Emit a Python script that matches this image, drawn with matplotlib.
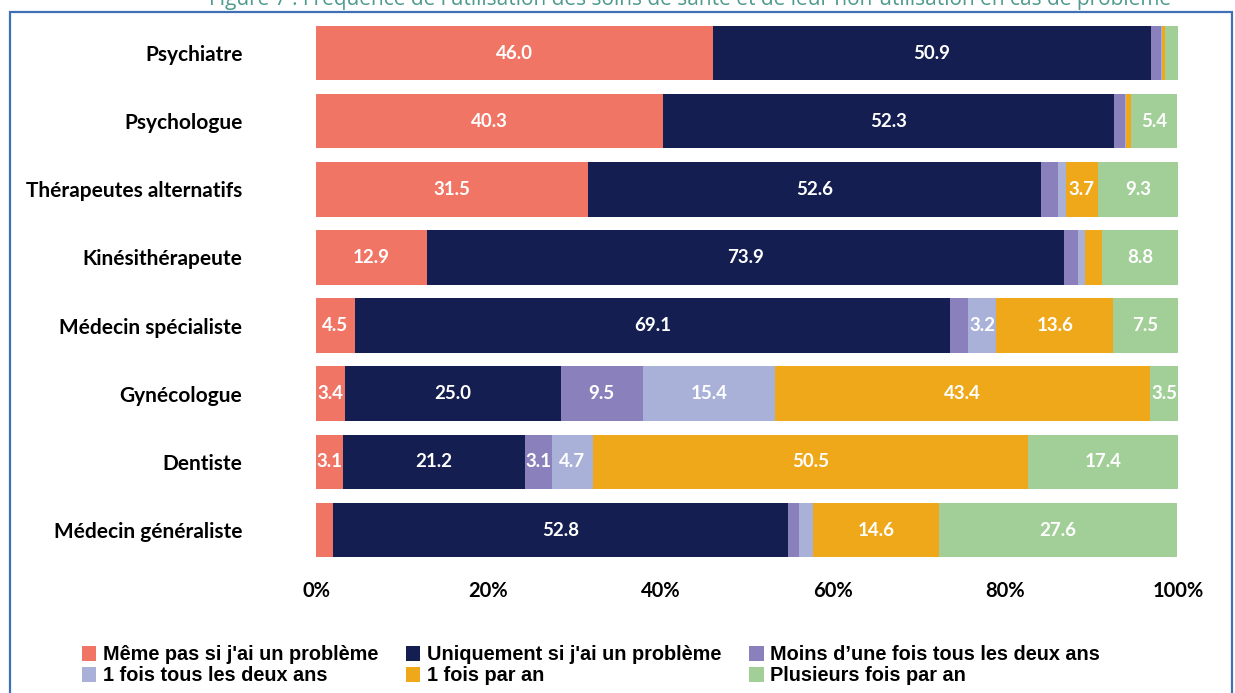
import numpy as np
import matplotlib.pyplot as plt
from matplotlib.patches import Rectangle


# ==================================================
# données
# ==================================================

categories = [
    "Psychiatre",
    "Psychologue",
    "Thérapeutes alternatifs",
    "Kinésithérapeute",
    "Médecin spécialiste",
    "Gynécologue",
    "Dentiste",
    "Médecin généraliste",
]

series_names = [
    "Même pas si j'ai un problème",
    "Uniquement si j'ai un problème",
    "Moins d\u2019une fois tous les deux ans",
    "1 fois tous les deux ans",
    "1 fois par an",
    "Plusieurs fois par an",
]

meme_pas = [46.0, 40.3, 31.5, 12.9, 4.5, 3.4, 3.1, 2.0]
uniquement = [50.9, 52.3, 52.6, 73.9, 69.1, 25.0, 21.2, 52.8]
moins_deux_ans = [1.1, 1.2, 2.0, 1.6, 2.1, 9.5, 3.1, 1.2]
tous_deux_ans = [0.1, 0.2, 0.9, 0.8, 3.2, 15.4, 4.7, 1.7]
par_an = [0.4, 0.5, 3.7, 2.0, 13.6, 43.4, 50.5, 14.6]
plusieurs = [1.5, 5.4, 9.3, 8.8, 7.5, 3.5, 17.4, 27.6]

series = [meme_pas, uniquement, moins_deux_ans, tous_deux_ans, par_an, plusieurs]

colors = ["#F07564", "#141E50", "#8A80BC", "#A9B1D9", "#EEA81A", "#A2CF97"]

xticks = [0, 20, 40, 60, 80, 100]
xtick_labels = ["0%", "20%", "40%", "60%", "80%", "100%"]

title = ("Figure 7 : Fréquence de l'utilisation des soins de santé "
         "et de leur non-utilisation en cas de problème")


# ==================================================
# figure
# ==================================================

fig = plt.figure(figsize=(12.35, 6.93), dpi=100)
ax = fig.add_axes([0.2559, 0.186, 0.6979, 0.7866])

y = np.arange(len(categories))
left = np.zeros(len(categories))

handles = []
for vals, name, col in zip(series, series_names, colors):
    vals = np.array(vals)
    bars = ax.barh(y, vals, left=left, height=0.8, color=col, label=name)
    handles.append(bars)
    for yi, l, v in zip(y, left, vals):
        if v >= 3:
            ax.text(l + v / 2, yi, f"{v:.1f}", ha="center", va="center",
                    color="white", fontsize=13.5, fontweight="bold",
                    family="Lato")
    left += vals

ax.set_xlim(0, 100)
ax.set_ylim(len(categories) - 0.5, -0.5)

ax.set_yticks(y)
ax.set_yticklabels(categories, fontsize=15, fontweight="bold", family="Lato")
ax.set_xticks(xticks)
ax.set_xticklabels(xtick_labels, fontsize=14.5, fontweight="bold",
                   family="Lato")
ax.tick_params(axis="y", length=0, pad=53)
ax.tick_params(axis="x", length=0, pad=12)

for s in ax.spines.values():
    s.set_visible(False)

# légende (ordre par colonnes)
order = [0, 3, 1, 4, 2, 5]
fig.legend(
    [handles[i] for i in order],
    [series_names[i] for i in order],
    ncol=3,
    loc="upper left",
    bbox_to_anchor=(0.058, 0.083),
    frameon=False,
    prop={"family": "Liberation Sans", "weight": "bold", "size": 14.3},
    handlelength=0.75,
    handleheight=0.75,
    handletextpad=0.35,
    columnspacing=1.35,
    labelspacing=0.1,
    borderpad=0,
)

# cadre
fig.patches.append(Rectangle((10 / 1235, -0.05), 1222 / 1235, 1 - 12 / 693 + 0.05,
                             transform=fig.transFigure, fill=False,
                             edgecolor="#3F6FB5", linewidth=1.6))

# titre coupé en haut
fig.text(690 / 1235, 1 - 5 / 693, title, ha="center", va="baseline",
         fontsize=15, color="#4E9A8E", family="Open Sans")

fig.savefig("out.png", dpi=100)
